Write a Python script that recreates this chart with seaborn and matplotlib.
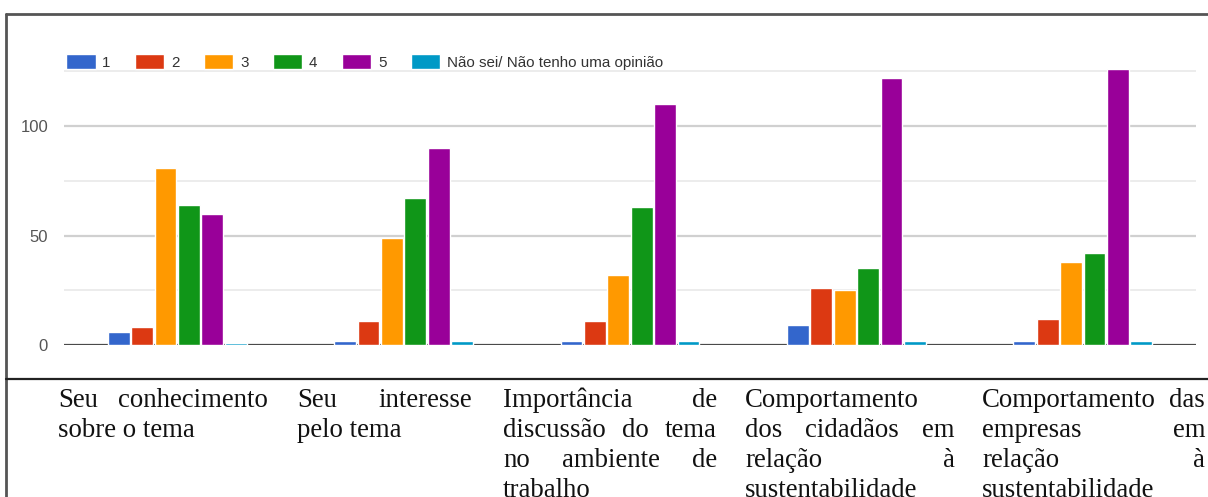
import matplotlib
matplotlib.use("Agg")
import matplotlib.pyplot as plt
from matplotlib.lines import Line2D
import seaborn as sns
import pandas as pd

# Survey items (columns of the table under the chart)
categories = [
    "Seu conhecimento sobre o tema",
    "Seu interesse pelo tema",
    "Importância de discussão do tema no ambiente de trabalho",
    "Comportamento dos cidadãos em relação à sustentabilidade",
    "Comportamento das empresas em relação à sustentabilidade",
]
# Same items broken into the lines printed in each table cell
label_lines = [
    ["Seu conhecimento", "sobre o tema"],
    ["Seu interesse", "pelo tema"],
    ["Importância de", "discussão do tema", "no ambiente de", "trabalho"],
    ["Comportamento", "dos cidadãos em", "relação à", "sustentabilidade"],
    ["Comportamento das", "empresas em", "relação à", "sustentabilidade"],
]

responses = ["1", "2", "3", "4", "5", "Não sei/ Não tenho uma opinião"]
resp_1 = [6, 2, 2, 9, 2]
resp_2 = [8, 11, 11, 26, 12]
resp_3 = [81, 49, 32, 25, 38]
resp_4 = [64, 67, 63, 35, 42]
resp_5 = [60, 90, 110, 122, 126]
resp_ns = [1, 2, 2, 2, 2]

yticks = [0, 50, 100]
minor_grid = [25, 75, 125]

colors = ["#3366cc", "#dc3912", "#ff9900", "#109618", "#990099", "#0099c6"]

series = [resp_1, resp_2, resp_3, resp_4, resp_5, resp_ns]
rows = []
for resp, vals in zip(responses, series):
    for cat, v in zip(categories, vals):
        rows.append({"item": cat, "resposta": resp, "n": v})
df = pd.DataFrame(rows)

W, H = 1208, 497
sns.set_style("white")
plt.rcParams["font.family"] = ["Liberation Sans", "DejaVu Sans"]
fig = plt.figure(figsize=(W / 100, H / 100), dpi=100)

# plot area in pixel terms: x 64..1196, zero line at y=345, 2.19 px per unit
ymax = 130
ax_left, ax_right = 64, 1196
zero_px = 345
px_per_unit = 2.19
ax_h = ymax * px_per_unit
ax = fig.add_axes([ax_left / W, (H - zero_px) / H, (ax_right - ax_left) / W, ax_h / H])

for y in minor_grid:
    ax.axhline(y, color="#ebebeb", lw=1.3, zorder=0)
for y in yticks[1:]:
    ax.axhline(y, color="#d0d0d0", lw=1.6, zorder=0)
ax.axhline(0, color="#4a4a4a", lw=1.6, zorder=1)

sns.barplot(data=df, x="item", y="n", hue="resposta", order=categories,
            hue_order=responses, palette=colors, saturation=1,
            width=0.62, gap=0.07, ax=ax, zorder=2)

ax.set_xlim(-0.5, len(categories) - 0.5)
ax.set_ylim(0, ymax)
ax.set_xticks(range(len(categories)))
ax.set_xticklabels([""] * len(categories))
ax.set_yticks(yticks)
ax.set_yticklabels([str(t) for t in yticks], color="#555555", fontsize=12)
ax.tick_params(axis="both", length=0)
ax.tick_params(axis="y", pad=11.5)
ax.set_xlabel("")
ax.set_ylabel("")
for s in ax.spines.values():
    s.set_visible(False)
for p in ax.patches:
    p.set_clip_on(False)

handles, labels = ax.get_legend_handles_labels()
ax.legend_.remove()
fs_leg = 10.9
fig.legend(handles, labels, loc="center left",
           bbox_to_anchor=(66 / W, 1 - 62 / H), ncol=6, frameon=False,
           fontsize=fs_leg, handlelength=1.95, handleheight=1.1,
           handletextpad=0.45, columnspacing=1.6, borderpad=0,
           borderaxespad=0, labelcolor="#333333")

# frame of the figure: left and top edges, and the separator above the table
frame_col = "#555555"
fig.add_artist(Line2D([6 / W, 6 / W], [0, 1 - 14 / H], transform=fig.transFigure,
                      color=frame_col, lw=2))
fig.add_artist(Line2D([6 / W, 1], [1 - 14 / H, 1 - 14 / H], transform=fig.transFigure,
                      color=frame_col, lw=2))
fig.add_artist(Line2D([6 / W, 1], [1 - 379 / H, 1 - 379 / H], transform=fig.transFigure,
                      color="#222222", lw=1.6))

# justified serif text in the table cells
col_bounds = [(58, 268), (297, 472), (503, 717), (745, 955), (982, 1205)]
baseline0 = 407
line_step = 30
fs_tab = 19.3
renderer = fig.canvas.get_renderer()
text_kw = dict(fontsize=fs_tab, family=["Liberation Serif", "DejaVu Serif"],
               color="#111111", va="baseline", ha="left")

for lines, (left, right) in zip(label_lines, col_bounds):
    for i, line in enumerate(lines):
        yb = 1 - (baseline0 + i * line_step) / H
        words = line.split()
        if i == len(lines) - 1 or len(words) == 1:
            fig.text(left / W, yb, line, **text_kw)
            continue
        arts = [fig.text(0, yb, w, **text_kw) for w in words]
        widths = [a.get_window_extent(renderer).width for a in arts]
        gap = (right - left - sum(widths)) / (len(words) - 1)
        x = left
        for a, w in zip(arts, widths):
            a.set_position((x / W, yb))
            x += w + gap

fig.savefig("out.png", dpi=100)
